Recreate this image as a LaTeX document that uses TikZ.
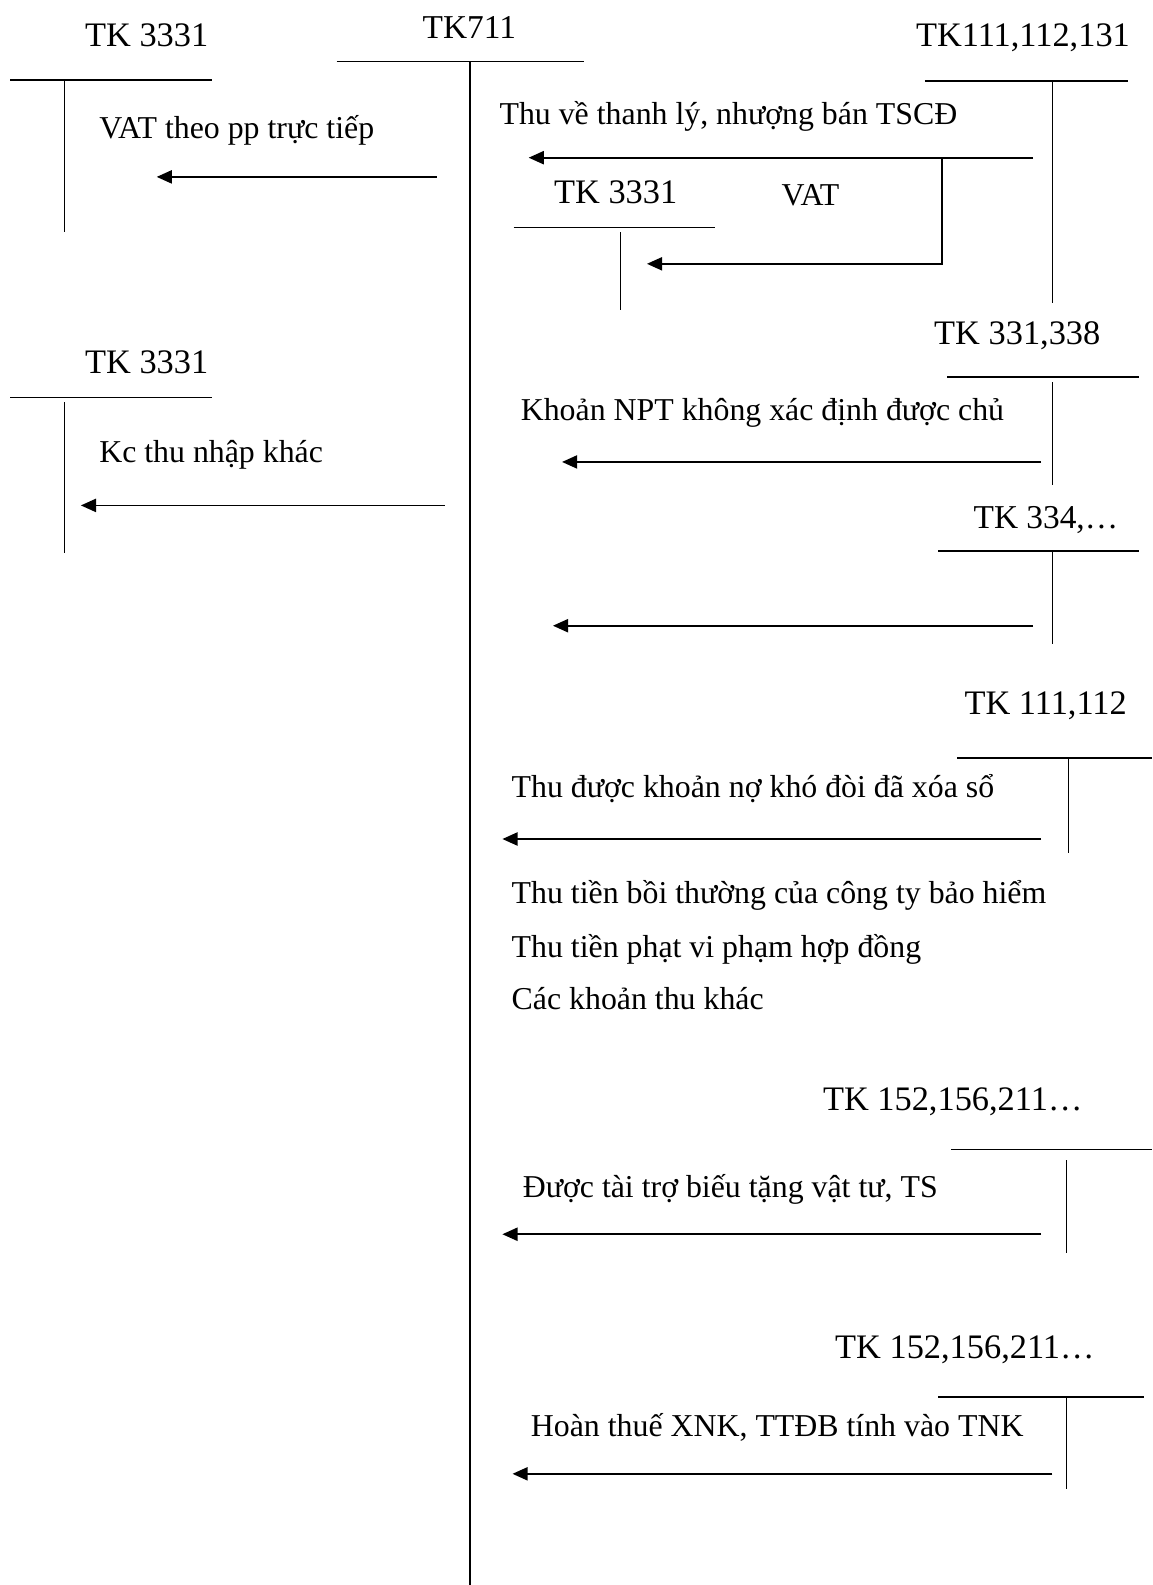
\documentclass[tikz,border=0pt]{standalone}
\usepackage{fontspec}
\setmainfont{Liberation Serif}
\usetikzlibrary{arrows.meta}
\begin{document}
\begin{tikzpicture}[x=1pt,y=-1pt,
  tline/.style={line width=1.5pt},
  flow/.style={line width=1.8pt,-{Triangle[length=15pt,width=13pt]}},
  hdr/.style={anchor=base west,inner sep=0pt,font=\fontsize{34}{39}\selectfont},
  hdrs/.style={anchor=base west,inner sep=0pt,font=\fontsize{33}{38}\selectfont},
  lbl/.style={anchor=base west,inner sep=0pt,font=\fontsize{31.5}{36}\selectfont}]
\useasboundingbox[fill=white] (0,0) rectangle (1140,1568);

% TK711 main account
\node[hdrs] (h711) at (418,38) {TK711};
\draw[tline] (333,61) -- (578,61);
\draw[tline] (465,61) -- (465,1568);

% Left top TK 3331
\node[hdr] (hL1) at (84,46) {TK 3331};
\draw[tline] (10,79) -- (210,79);
\draw[tline] (64,79) -- (64,230);
\node[lbl] (lVAT) at (98,137) {VAT theo pp trực tiếp};
\coordinate (a1s) at (432,175); \coordinate (a1e) at (155,175);
\draw[flow] (a1s) -- (a1e);

% Left bottom TK 3331
\node[hdr] (hL2) at (84,369) {TK 3331};
\draw[tline] (10,393) -- (210,393);
\draw[tline] (64,398) -- (64,547);
\node[lbl] (lKc) at (98,458) {Kc thu nhập khác};
\coordinate (a2s) at (440,500); \coordinate (a2e) at (80,500);
\draw[flow] (a2s) -- (a2e);

% TK111,112,131
\node[hdr] (hR1) at (906,46) {TK111,112,131};
\draw[tline] (915,80) -- (1116,80);
\draw[tline] (1041,80) -- (1041,300);
\node[lbl] (lThu) at (494,123) {Thu về thanh lý, nhượng bán TSCĐ};
\coordinate (a3s) at (1022,156); \coordinate (a3e) at (523,156);
\draw[flow] (a3s) -- (a3e);
\coordinate (b1) at (932,156); \coordinate (b2) at (932,261); \coordinate (b3) at (640,261);
\draw[flow] (b1) -- (b2) -- (b3);
\node[hdr] (hIn) at (548,201) {TK 3331};
\node[lbl] (lVAT2) at (773,203) {VAT};
\draw[tline] (508,225) -- (707,225);
\draw[tline] (614,230) -- (614,307);

% TK 331,338
\node[hdr] (hR2) at (924,341) {TK 331,338};
\draw[tline] (937,373) -- (1127,373);
\draw[tline] (1041,378) -- (1041,480);
\node[lbl] (lNPT) at (515,416) {Khoản NPT không xác định được chủ};
\coordinate (a4s) at (1030,457); \coordinate (a4e) at (556,457);
\draw[flow] (a4s) -- (a4e);

% TK 334
\node[hdrs] (hR3) at (963,523) {TK 334,…};
\draw[tline] (928,545) -- (1127,545);
\draw[tline] (1041,545) -- (1041,637);
\coordinate (a5s) at (1022,619); \coordinate (a5e) at (547,619);
\draw[flow] (a5s) -- (a5e);

% TK 111,112
\node[hdr] (hR4) at (954,707) {TK 111,112};
\draw[tline] (947,750) -- (1140,750);
\draw[tline] (1057,750) -- (1057,844);
\node[lbl] (lNo) at (506,789) {Thu được khoản nợ khó đòi đã xóa sổ};
\coordinate (a6s) at (1030,830); \coordinate (a6e) at (497,830);
\draw[flow] (a6s) -- (a6e);
\node[lbl] (lBH) at (506,894) {Thu tiền bồi thường của công ty bảo hiểm};
\node[lbl] (lPhat) at (506,947) {Thu tiền phạt vi phạm hợp đồng};
\node[lbl] (lKhac) at (506,999) {Các khoản thu khác};

% TK 152,156,211 (1)
\node[hdr] (hR5) at (814,1099) {TK 152,156,211…};
\draw[tline] (941,1137) -- (1140,1137);
\draw[tline] (1055,1148) -- (1055,1240);
\node[lbl] (lTT) at (517,1185) {Được tài trợ biếu tặng vật tư, TS};
\coordinate (a7s) at (1030,1221); \coordinate (a7e) at (497,1221);
\draw[flow] (a7s) -- (a7e);

% TK 152,156,211 (2)
\node[hdr] (hR6) at (826,1344) {TK 152,156,211…};
\draw[tline] (928,1382) -- (1132,1382);
\draw[tline] (1055,1383) -- (1055,1473);
\node[lbl] (lHT) at (525,1421) {Hoàn thuế XNK, TTĐB tính vào TNK};
\coordinate (a8s) at (1041,1458); \coordinate (a8e) at (507,1458);
\draw[flow] (a8s) -- (a8e);
\end{tikzpicture}
\end{document}
